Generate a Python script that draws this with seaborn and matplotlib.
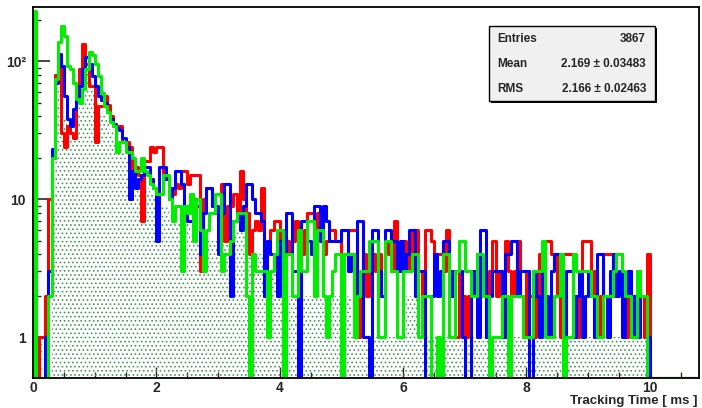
import numpy as np
import seaborn as sns
import matplotlib.pyplot as plt
from matplotlib.ticker import FixedLocator, FixedFormatter, NullFormatter, MultipleLocator

sns.set_style("white")
plt.rcParams["font.family"] = ["Liberation Sans", "DejaVu Sans"]
plt.rcParams["font.weight"] = "bold"
plt.rcParams["hatch.linewidth"] = 0.7

# Histogram binning (ms): 0.05 ms bins, frame goes to 10.8 ms
bin_width = 0.05
x_max = 10.8

# Counts per bin (bins 0 .. 10 ms, empty afterwards)
red_counts = [
    0, 0, 1, 1, 2, 10, 20, 80, 98, 30,
    24, 34, 30, 28, 66, 88, 133, 95, 66, 66,
    26, 47, 47, 56, 48, 40, 34, 34, 34, 26,
    26, 24, 14, 17, 15, 7, 19, 19, 24, 22,
    24, 24, 14, 14, 12, 11, 13, 12, 16, 16,
    13, 15, 15, 15, 3, 10, 12, 12, 9, 8,
    7, 13, 5, 9, 9, 11, 8, 16, 10, 8,
    4, 6, 7, 6, 12, 2, 5, 6, 7, 7,
    5, 6, 5, 4, 5, 7, 5, 4, 6, 8,
    8, 5, 8, 8, 4, 5, 6, 6, 5, 5,
    3, 4, 6, 6, 6, 1, 3, 4, 2, 3,
    4, 3, 4, 2, 5, 4, 3, 7, 4, 3,
    5, 3, 4, 6, 6, 3, 2, 6, 6, 5,
    4, 4, 4, 3, 6, 3, 2, 1, 3, 2,
    1, 2, 3, 2, 4, 3, 2, 1, 3, 5,
    2, 3, 1, 5, 3, 2, 3, 5, 2, 1,
    3, 2, 1, 2, 4, 2, 5, 5, 4, 4,
    2, 1, 4, 4, 4, 2, 1, 3, 5, 5,
    5, 2, 3, 1, 2, 4, 4, 4, 2, 4,
    4, 2, 1, 3, 2, 1, 3, 2, 1, 4,
]
blue_counts = [
    18, 0, 0, 0, 1, 3, 23, 70, 112, 92,
    56, 38, 34, 45, 55, 66, 88, 107, 95, 78,
    66, 56, 52, 50, 43, 38, 35, 33, 32, 28,
    24, 10, 16, 12, 14, 15, 17, 17, 14, 12,
    5, 17, 17, 14, 10, 12, 16, 16, 13, 9,
    7, 7, 10, 9, 4, 8, 12, 12, 9, 9,
    4, 8, 13, 13, 2, 7, 8, 6, 9, 13,
    13, 10, 8, 8, 7, 2, 5, 4, 4, 2,
    5, 4, 8, 8, 3, 3, 0, 7, 7, 5,
    4, 9, 9, 5, 9, 7, 5, 5, 5, 5,
    6, 6, 3, 4, 2, 7, 7, 1, 1, 0,
    6, 6, 3, 2, 6, 6, 5, 5, 3, 5,
    3, 4, 6, 6, 2, 3, 3, 0, 0, 2,
    4, 2, 3, 5, 5, 2, 3, 3, 3, 1,
    0, 0, 2, 3, 1, 6, 6, 1, 2, 3,
    3, 3, 1, 4, 4, 5, 5, 2, 3, 3,
    3, 0, 3, 2, 1, 4, 2, 1, 3, 4,
    4, 2, 1, 3, 3, 1, 2, 3, 1, 2,
    3, 2, 1, 4, 4, 2, 1, 3, 4, 2,
    3, 1, 2, 3, 1, 2, 1, 2, 2, 1,
]
green_counts = [
    230, 0, 0, 0, 0, 2, 20, 74, 137, 180,
    152, 92, 88, 70, 53, 50, 63, 88, 116, 110,
    95, 78, 59, 47, 43, 36, 34, 22, 26, 26,
    22, 22, 20, 16, 16, 20, 16, 15, 13, 12,
    11, 11, 15, 15, 10, 7, 9, 9, 3, 9,
    8, 11, 5, 10, 6, 3, 6, 8, 8, 11,
    11, 3, 4, 4, 5, 7, 8, 8, 8, 2,
    0, 4, 3, 3, 3, 3, 1, 3, 4, 6,
    6, 0, 4, 4, 2, 2, 6, 3, 3, 7,
    7, 2, 6, 6, 2, 1, 2, 3, 4, 4,
    0, 4, 4, 4, 1, 2, 3, 3, 3, 5,
    5, 5, 1, 1, 5, 5, 3, 3, 1, 1,
    3, 3, 3, 4, 4, 1, 2, 2, 2, 0,
    0, 1, 0, 4, 4, 1, 1, 3, 5, 5,
    3, 3, 2, 2, 4, 4, 2, 2, 0, 1,
    1, 1, 2, 2, 0, 2, 2, 2, 2, 1,
    1, 1, 3, 3, 3, 5, 1, 1, 1, 2,
    2, 4, 0, 1, 1, 4, 3, 3, 3, 3,
    3, 2, 2, 1, 1, 2, 2, 2, 3, 4,
    4, 3, 2, 2, 1, 1, 3, 2, 2, 0,
]
# dotted reference histogram (the one the stats box refers to)
fill_counts = [
    0, 0, 0, 0, 0, 0, 8, 50, 75, 65,
    40, 30, 28, 30, 45, 60, 80, 85, 75, 62,
    50, 45, 42, 40, 36, 32, 28, 26, 24, 22,
    20, 17, 15, 13, 12, 12, 13, 12, 11, 10,
    9, 9, 9, 9, 7, 7, 7, 7, 8, 8,
    8, 5, 5, 5, 5, 5, 5, 5, 5, 5,
    5, 6, 6, 6, 6, 6, 6, 6, 6, 4,
    4, 4, 4, 4, 4, 4, 3, 3, 3, 3,
    3, 3, 3, 2, 2, 2, 2, 2, 2, 2,
    2, 2, 2, 2, 2, 2, 2, 2, 2, 2,
    2, 2, 2, 1, 1, 1, 1, 1, 1, 1,
    1, 1, 1, 1, 1, 1, 1, 1, 1, 1,
    1, 2, 2, 2, 2, 1, 1, 1, 1, 1,
    1, 1, 1, 1, 1, 1, 1, 1, 1, 1,
    1, 1, 1, 1, 1, 1, 1, 1, 1, 1,
    1, 1, 1, 1, 1, 1, 1, 1, 1, 1,
    1, 1, 1, 1, 1, 1, 1, 1, 1, 1,
    1, 1, 1, 1, 1, 1, 1, 1, 1, 1,
    1, 1, 1, 1, 1, 1, 1, 1, 1, 1,
    1, 1, 1, 1, 1, 1, 1, 1, 1, 1,
]

stats_labels = ["Entries", "Mean", "RMS"]
stats_values = ["3867", "2.169 \u00b1 0.03483", "2.166 \u00b1 0.02463"]

y_min, y_max = 0.507, 247.0
n_bins = int(round(x_max / bin_width))
edges = np.arange(n_bins + 1) * bin_width


def step_values(counts):
    """
    Pad counts to the full range, put empty bins on the frame bottom
    (like ROOT does on a log axis) and repeat the last value for steps-post.
    """
    v = np.zeros(n_bins)
    v[: len(counts)] = counts
    v = np.where(v > 0, v, y_min)
    return np.append(v, v[-1])


fig = plt.figure(figsize=(7.02, 4.08), dpi=100)
ax = fig.add_axes([33 / 702, 30 / 408, 666 / 702, 371 / 408])
ax.set_yscale("log")

# dotted fill
fv = step_values(fill_counts)
ax.fill_between(edges, y_min, fv, step="post", facecolor="none",
                edgecolor="#3f9a55", hatch="....", linewidth=0, zorder=1)

for counts, color in [(red_counts, "#ff0000"), (blue_counts, "#0000ff"), (green_counts, "#00ee00")]:
    v = step_values(counts)
    xs = np.concatenate([[0.0], edges])
    ys = np.concatenate([[y_min], v])
    sns.lineplot(x=xs, y=ys, drawstyle="steps-post", color=color, linewidth=2.2,
                 estimator=None, sort=False, ax=ax, zorder=2)

ax.set_xlim(0, x_max)
ax.set_ylim(y_min, y_max)

# ROOT-like ticks
ax.xaxis.set_major_locator(FixedLocator([0, 2, 4, 6, 8, 10]))
ax.xaxis.set_minor_locator(MultipleLocator(0.5))
ax.set_xticklabels(["0", "2", "4", "6", "8", "10"], fontsize=10, fontweight="bold")
ax.yaxis.set_major_locator(FixedLocator([1, 10, 100]))
ax.yaxis.set_major_formatter(FixedFormatter(["1", "10", "10\u00b2"]))
minor_y = [m * 10 ** e for e in (-1, 0, 1, 2) for m in range(2, 10)]
ax.yaxis.set_minor_locator(FixedLocator([t for t in minor_y if y_min < t < y_max]))
ax.yaxis.set_minor_formatter(NullFormatter())
for lab in ax.get_yticklabels():
    lab.set_fontsize(10)
    lab.set_fontweight("bold")
ax.tick_params(axis="x", which="major", direction="in", length=8, width=1, pad=2, bottom=True)
ax.tick_params(axis="x", which="minor", direction="in", length=4, width=1, bottom=True)
ax.tick_params(axis="y", which="major", direction="in", length=12, width=1.2, pad=5, left=True)
ax.tick_params(axis="y", which="minor", direction="in", length=6, width=1, left=True)
for side in ax.spines.values():
    side.set_linewidth(1.3)
    side.set_color("black")
    side.set_zorder(5)
ax.set_xlabel("")
ax.set_ylabel("")
fig.text(698 / 702, 1 - 401 / 408, "Tracking Time [ ms ]", ha="right", va="center",
         fontsize=9.5, fontweight="bold")

# stats box
bx0, bx1, by0, by1 = 489, 655, 26, 101
shadow = plt.Rectangle((bx0 + 2, 408 - by1 - 2), bx1 - bx0, by1 - by0, transform=None,
                       facecolor="black", edgecolor="none", zorder=6)
box = plt.Rectangle((bx0, 408 - by1), bx1 - bx0, by1 - by0, transform=None,
                    facecolor="#f0f0f0", edgecolor="black", linewidth=1, zorder=7)
fig.patches.extend([shadow, box])
for k, (name, val) in enumerate(zip(stats_labels, stats_values)):
    yy = 1 - (39 + 25 * k) / 408
    fig.text(497 / 702, yy, name, ha="left", va="center", fontsize=8.5,
             fontweight="bold", zorder=8)
    fig.text(646 / 702, yy, val, ha="right", va="center", fontsize=8.5,
             fontweight="bold", zorder=8)

fig.savefig("out.png", dpi=100)
